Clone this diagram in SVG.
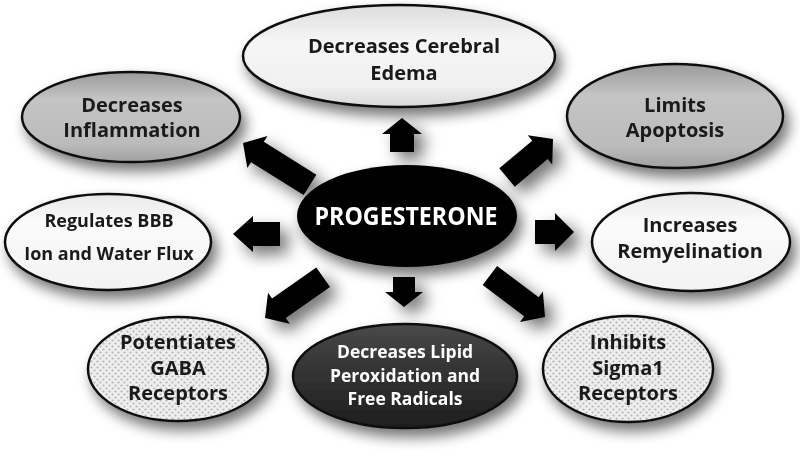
<svg xmlns="http://www.w3.org/2000/svg" width="800" height="463" viewBox="0 0 800 463">
<defs>
  <filter id="sh" x="-40%" y="-40%" width="180%" height="180%">
    <feGaussianBlur in="SourceAlpha" stdDeviation="7"/>
    <feOffset dx="5" dy="8" result="b"/>
    <feComponentTransfer><feFuncA type="linear" slope="0.55"/></feComponentTransfer>
    <feMerge><feMergeNode/><feMergeNode in="SourceGraphic"/></feMerge>
  </filter>
  <filter id="ash" x="-80%" y="-80%" width="260%" height="260%">
    <feGaussianBlur in="SourceAlpha" stdDeviation="8"/>
    <feOffset dx="8" dy="8" result="b"/>
    <feComponentTransfer><feFuncA type="linear" slope="0.55"/></feComponentTransfer>
    <feMerge><feMergeNode/><feMergeNode in="SourceGraphic"/></feMerge>
  </filter>
  <linearGradient id="gLight" x1="0" y1="0" x2="0" y2="1">
    <stop offset="0" stop-color="#dcdcdc"/>
    <stop offset="0.35" stop-color="#f6f6f6"/>
    <stop offset="0.8" stop-color="#f0f0f0"/>
    <stop offset="1" stop-color="#d8d8d8"/>
  </linearGradient>
  <linearGradient id="gWhite" x1="0" y1="0" x2="0" y2="1">
    <stop offset="0" stop-color="#e8e8e8"/>
    <stop offset="0.3" stop-color="#fbfbfb"/>
    <stop offset="1" stop-color="#f2f2f2"/>
  </linearGradient>
  <linearGradient id="gGray" x1="0" y1="0" x2="0" y2="1">
    <stop offset="0" stop-color="#9a9a9a"/>
    <stop offset="0.3" stop-color="#c4c4c4"/>
    <stop offset="0.8" stop-color="#bbbbbb"/>
    <stop offset="1" stop-color="#a0a0a0"/>
  </linearGradient>
  <linearGradient id="gDark" x1="0" y1="0" x2="0" y2="1">
    <stop offset="0" stop-color="#4a4a4a"/>
    <stop offset="0.3" stop-color="#3a3a3a"/>
    <stop offset="1" stop-color="#1e1e1e"/>
  </linearGradient>
  <pattern id="dots" width="6" height="6" patternUnits="userSpaceOnUse">
    <rect width="6" height="6" fill="#efefef"/>
    <circle cx="1.5" cy="1.5" r="1.1" fill="#b4b4b4"/>
    <circle cx="4.5" cy="4.5" r="1.1" fill="#b4b4b4"/>
  </pattern>
  <style>
    .e{stroke:#111;stroke-width:2.5}
    .t{font-family:"Open Sans",Lato,sans-serif;font-weight:bold;font-size:20px;fill:#1a1a1a;text-anchor:middle;font-variant-ligatures:none}
    .w{fill:#fff}
    .s{font-size:18px}
    .m{font-size:17.5px}
    .big{font-size:25px}
    .a{fill:#000}
  </style>
</defs>
<rect width="800" height="463" fill="#fff"/>

<g id="connectors" filter="url(#ash)">
  <path class="a" d="M402,118 L382,134 L390,134 L390,152 L414,152 L414,134 L422,134 Z"/>
  <path class="a" transform="translate(243,143) rotate(-148)" d="M0,0 L-17,-19 L-17,-12 L-79,-12 L-79,12 L-17,12 L-17,19 Z"/>
  <path class="a" transform="translate(553,139) rotate(-40)" d="M0,0 L-17,-19 L-17,-12 L-60,-12 L-60,12 L-17,12 L-17,19 Z"/>
  <path class="a" transform="translate(233,234) rotate(180)" d="M0,0 L-20,-18 L-20,-12 L-47,-12 L-47,12 L-20,12 L-20,18 Z"/>
  <path class="a" transform="translate(574,232) rotate(0)" d="M0,0 L-19,-19 L-19,-12 L-39,-12 L-39,12 L-19,12 L-19,19 Z"/>
  <path class="a" transform="translate(404,307) rotate(90)" d="M0,0 L-15,-19 L-15,-11 L-30,-11 L-30,11 L-15,11 L-15,19 Z"/>
  <path class="a" transform="translate(265,318) rotate(145)" d="M0,0 L-17,-19 L-17,-12 L-71,-12 L-71,12 L-17,12 L-17,19 Z"/>
  <path class="a" transform="translate(545,317) rotate(37)" d="M0,0 L-17,-19 L-17,-12 L-69,-12 L-69,12 L-17,12 L-17,19 Z"/>
</g>

<g id="center">
  <ellipse cx="407" cy="216" rx="110" ry="51" fill="#000" filter="url(#sh)"/>
  <text class="t w big" x="406" y="225" textLength="183" lengthAdjust="spacingAndGlyphs">PROGESTERONE</text>
</g>

<g id="edema">
  <ellipse class="e" cx="399" cy="56" rx="156" ry="51" fill="url(#gLight)" filter="url(#sh)"/>
  <text class="t" x="404" y="53">Decreases Cerebral</text>
  <text class="t" x="404" y="80">Edema</text>
</g>

<g id="inflammation">
  <ellipse class="e" cx="131" cy="117" rx="109" ry="45" fill="url(#gGray)" filter="url(#sh)"/>
  <text class="t" x="132" y="112">Decreases</text>
  <text class="t" x="132" y="137">Inflammation</text>
</g>

<g id="apoptosis">
  <ellipse class="e" cx="675" cy="116" rx="108" ry="52" fill="url(#gGray)" filter="url(#sh)"/>
  <text class="t" x="675" y="112">Limits</text>
  <text class="t" x="675" y="137">Apoptosis</text>
</g>

<g id="bbb">
  <ellipse class="e" cx="108" cy="242" rx="103" ry="48" fill="url(#gWhite)" filter="url(#sh)"/>
  <text class="t s" x="109" y="227">Regulates BBB</text>
  <text class="t s" x="109" y="260">Ion and Water Flux</text>
</g>

<g id="remyelination">
  <ellipse class="e" cx="691" cy="242" rx="99" ry="49" fill="url(#gWhite)" filter="url(#sh)"/>
  <text class="t" x="690" y="232">Increases</text>
  <text class="t" x="690" y="258">Remyelination</text>
</g>

<g id="gaba">
  <ellipse class="e" cx="178" cy="369" rx="90" ry="52" fill="url(#dots)" filter="url(#sh)"/>
  <text class="t" x="178" y="349">Potentiates</text>
  <text class="t" x="178" y="375">GABA</text>
  <text class="t" x="178" y="400">Receptors</text>
</g>

<g id="lipid">
  <ellipse class="e" cx="405" cy="376" rx="112" ry="52" fill="url(#gDark)" filter="url(#sh)"/>
  <text class="t w m" x="405" y="358">Decreases Lipid</text>
  <text class="t w m" x="405" y="382">Peroxidation and</text>
  <text class="t w m" x="405" y="405">Free Radicals</text>
</g>

<g id="sigma">
  <ellipse class="e" cx="628" cy="369" rx="85" ry="53" fill="url(#dots)" filter="url(#sh)"/>
  <text class="t" x="628" y="349">Inhibits</text>
  <text class="t" x="628" y="375">Sigma1</text>
  <text class="t" x="628" y="400">Receptors</text>
</g>
</svg>
